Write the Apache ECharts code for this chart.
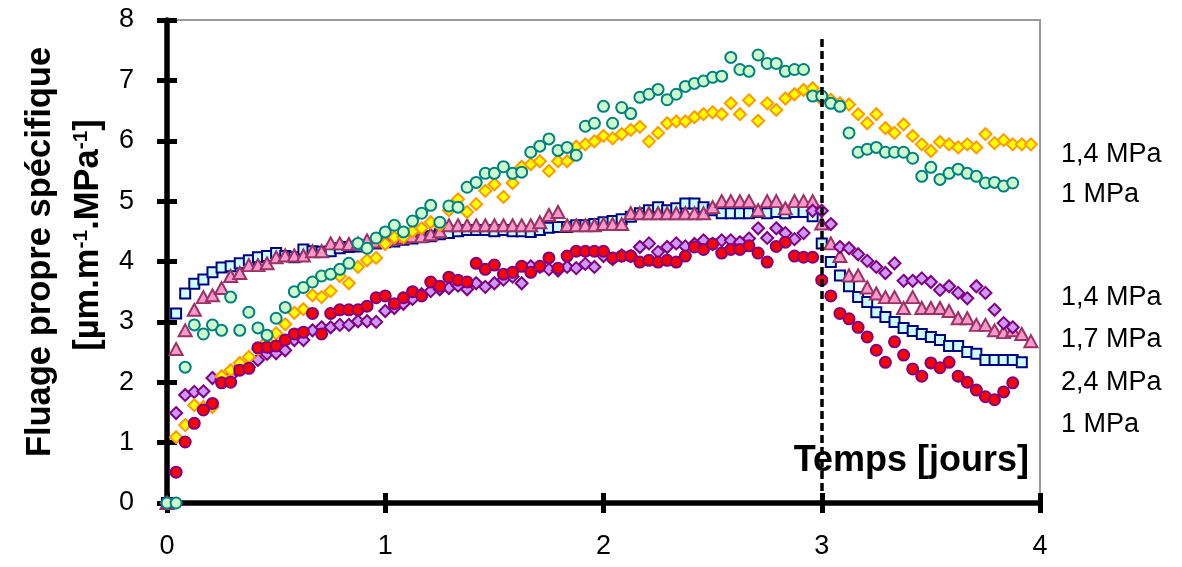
<!DOCTYPE html>
<html><head><meta charset="utf-8">
<script src="https://cdn.jsdelivr.net/npm/echarts@6/dist/echarts.min.js"></script>
<style>html,body{margin:0;padding:0;background:#fff}#c{width:1182px;height:567px}</style>
</head><body><div id="c"></div>
<script>
// time in hours (one sample per hour), axis shown in days
const hours = ['0','1','2','3','4','5','6','7','8','9','10','11','12','13','14','15','16','17','18','19','20','21','22','23','24','25','26','27','28','29','30','31','32','33','34','35','36','37','38','39','40','41','42','43','44','45','46','47','48','49','50','51','52','53','54','55','56','57','58','59','60','61','62','63','64','65','66','67','68','69','70','71','72','73','74','75','76','77','78','79','80','81','82','83','84','85','86','87','88','89','90','91','92','93','94','95','96'];
const xTickLabels = ['0','1','2','3','4'];
const yMin = 0, yMax = 8, yStep = 1;
const unloadHour = '72';
const dashTop = 7.72;

// teal circles (1 MPa, upper group)
const tealCircles = [0,0,2.25,2.95,2.8,2.95,2.86,3.41,2.86,3.16,2.9,2.78,3.06,3.24,3.5,3.57,3.66,3.76,3.79,3.87,3.97,4.3,4.22,4.39,4.49,4.6,4.49,4.67,4.8,4.93,4.65,4.92,4.9,5.23,5.31,5.46,5.46,5.57,5.46,5.48,5.81,5.91,6.03,5.84,5.89,5.76,6.24,6.29,6.57,6.29,6.55,6.45,6.72,6.77,6.85,6.68,6.77,6.9,6.95,6.99,7.05,7.07,7.38,7.18,7.15,7.42,7.28,7.28,7.15,7.18,7.18,6.74,6.74,6.62,6.57,6.13,5.81,5.86,5.89,5.81,5.81,5.81,5.71,5.41,5.56,5.36,5.46,5.53,5.46,5.41,5.3,5.31,5.25,5.3];
// yellow/orange diamonds (1,4 MPa, upper group)
const orangeDiamonds = [0,1.09,1.29,1.62,1.59,1.59,2.1,2.2,2.32,2.42,2.55,2.68,2.81,2.96,3.15,3.21,3.44,3.41,3.51,3.76,3.64,3.91,4.02,4.06,4.29,4.4,4.4,4.5,4.55,4.65,4.6,4.85,5.03,4.82,4.95,5.17,5.28,5.07,5.3,5.57,5.61,5.66,5.5,5.66,5.66,5.9,5.94,5.99,6.08,6.04,6.11,6.18,6.23,5.99,6.13,6.29,6.32,6.32,6.39,6.44,6.47,6.44,6.62,6.44,6.67,6.33,6.62,6.51,6.7,6.77,6.84,6.87,6.68,6.68,6.62,6.6,6.44,6.29,6.44,6.21,6.13,6.27,6.08,5.94,5.83,5.98,5.94,5.89,5.94,5.89,6.11,5.96,6.01,5.94,5.94,5.94];
// light blue squares
const blueSquares = [0,3.14,3.47,3.63,3.7,3.82,3.9,3.92,3.97,4.02,4.07,4.09,4.14,4.09,4.07,4.2,4.17,4.16,4.17,4.22,4.24,4.25,4.27,4.3,4.32,4.33,4.36,4.38,4.4,4.42,4.45,4.47,4.5,4.52,4.52,4.52,4.5,4.52,4.5,4.5,4.49,4.52,4.56,4.57,4.57,4.6,4.6,4.62,4.65,4.67,4.7,4.74,4.8,4.85,4.9,4.85,4.88,4.96,4.96,4.9,4.85,4.8,4.8,4.8,4.8,4.82,4.8,4.82,4.8,4.82,4.82,4.75,4.3,3.99,3.77,3.59,3.41,3.33,3.16,3.08,3.0,2.9,2.85,2.8,2.75,2.7,2.6,2.6,2.5,2.47,2.37,2.37,2.37,2.37,2.33];
// pink triangles
const pinkTriangles = [0,2.55,2.86,3.2,3.41,3.44,3.56,3.76,3.81,3.94,3.94,3.97,4.07,4.1,4.1,4.1,4.17,4.17,4.3,4.3,4.29,4.3,4.35,4.33,4.36,4.38,4.4,4.42,4.42,4.45,4.5,4.6,4.6,4.6,4.6,4.6,4.6,4.6,4.6,4.6,4.6,4.65,4.77,4.82,4.6,4.6,4.6,4.6,4.62,4.62,4.62,4.8,4.8,4.8,4.8,4.8,4.8,4.8,4.8,4.8,4.9,5.0,5.0,5.0,5.0,4.85,5.0,5.0,4.88,5.0,5.0,5.0,4.63,4.3,4.09,3.77,3.77,3.57,3.47,3.41,3.41,3.23,3.41,3.23,3.23,3.23,3.18,3.06,3.06,2.95,2.95,2.86,2.83,2.86,2.8,2.68];
// violet diamonds
const violetDiamonds = [0,1.49,1.79,1.84,1.85,2.07,2.05,2.1,2.25,2.25,2.37,2.47,2.48,2.53,2.7,2.7,2.86,2.91,2.91,2.95,2.95,3.01,3.01,3.0,3.18,3.23,3.3,3.38,3.46,3.51,3.54,3.56,3.6,3.54,3.64,3.58,3.64,3.7,3.75,3.64,3.92,3.91,3.87,3.85,3.91,3.89,3.96,3.91,4.09,4.04,4.1,4.09,4.24,4.3,4.16,4.24,4.3,4.25,4.29,4.35,4.29,4.35,4.35,4.32,4.38,4.55,4.39,4.55,4.47,4.37,4.47,4.84,4.84,4.62,4.24,4.22,4.12,4.01,3.91,3.81,3.97,3.68,3.68,3.72,3.66,3.53,3.59,3.48,3.39,3.59,3.48,3.2,2.98,2.91];
// red circles
const redCircles = [0,0.51,1.01,1.32,1.54,1.65,1.99,2.0,2.2,2.23,2.57,2.58,2.6,2.7,2.8,2.83,3.14,2.8,3.14,3.2,3.2,3.2,3.26,3.4,3.43,3.3,3.4,3.5,3.43,3.66,3.59,3.74,3.69,3.66,3.97,3.87,3.94,3.79,3.82,3.92,3.82,3.92,4.06,3.89,4.09,4.17,4.17,4.17,4.17,4.06,4.09,4.09,3.99,4.02,3.99,4.02,3.99,4.09,4.24,4.2,4.29,4.14,4.2,4.2,4.26,4.14,3.99,4.25,4.32,4.09,4.07,4.07,3.69,3.43,3.14,3.05,2.91,2.75,2.53,2.33,2.67,2.45,2.22,2.1,2.32,2.24,2.33,2.1,2.0,1.87,1.76,1.71,1.84,1.99];

const rightLabels = ['1,4 MPa','1 MPa','1,4 MPa','1,7 MPa','2,4 MPa','1 MPa'];
const yTitle1 = 'Fluage propre spécifique';
const xTitle = 'Temps [jours]';

const FONT = '"Liberation Sans", Arial, sans-serif';

function mk(name, data, symbol, size, fill, stroke, extra) {
  return Object.assign({
    name: name, type: 'scatter', data: data, symbol: symbol, symbolSize: size,
    xAxisIndex: 0, yAxisIndex: 0,
    itemStyle: { color: fill, borderColor: stroke, borderWidth: 2, opacity: 1 },
    emphasis: { disabled: true }, animation: false
  }, extra || {});
}

const chart = echarts.init(document.getElementById('c'), null, { renderer: 'canvas' });
const labelYs = [155, 195, 298, 340, 383, 425];
const graphics = rightLabels.map((t, i) => ({
  type: 'text', x: 1061, y: labelYs[i],
  style: { text: t, fontSize: 27, fontFamily: FONT, fill: '#000', align: 'left', verticalAlign: 'middle' }
}));
graphics.push({
  type: 'text', x: 40, y: 252, rotation: Math.PI / 2,
  style: { text: yTitle1, fontSize: 34.5, fontWeight: 'bold', fontFamily: FONT, fill: '#000', align: 'center', verticalAlign: 'middle' }
});
graphics.push({
  type: 'text', x: 88, y: 235, rotation: Math.PI / 2,
  style: {
    text: '{a|[µm.m}{s|-1}{a|.MPa}{s|-1}{a|]}',
    fontSize: 34.5, fontWeight: 'bold', fontFamily: FONT, fill: '#000', align: 'center', verticalAlign: 'middle',
    rich: {
      a: { fontSize: 34.5, fontWeight: 'bold', fontFamily: FONT, fill: '#000' },
      s: { fontSize: 21, fontWeight: 'bold', fontFamily: FONT, fill: '#000', verticalAlign: 'top' }
    }
  }
});
graphics.push({
  type: 'text', x: 1029, y: 461,
  style: { text: xTitle, fontSize: 36, fontWeight: 'bold', fontFamily: FONT, fill: '#000', align: 'right', verticalAlign: 'middle' }
});

const option = {
  backgroundColor: '#fff',
  animation: false,
  grid: { left: 167, right: 142, top: 20, bottom: 64, show: true, borderColor: '#9a9a9a', borderWidth: 2, backgroundColor: 'transparent', containLabel: false, outerBoundsMode: 'none' },
  xAxis: [
    { type: 'category', data: hours, boundaryGap: false, position: 'bottom',
      axisLine: { show: true, onZero: false, lineStyle: { color: '#000', width: 5.5 } },
      axisTick: { show: true, interval: 23, inside: false, length: 10, lineStyle: { color: '#000', width: 5 } },
      axisLabel: { show: true, interval: 23, margin: 30, fontSize: 27, fontFamily: FONT, color: '#000',
        formatter: (v, i) => xTickLabels[i / 24] },
      splitLine: { show: false } },
    { type: 'category', data: hours, boundaryGap: false, position: 'bottom', offset: 0,
      axisLine: { show: false, onZero: false },
      axisTick: { show: true, interval: 23, inside: true, length: 10, lineStyle: { color: '#000', width: 5 } },
      axisLabel: { show: false }, splitLine: { show: false } }
  ],
  yAxis: [
    { type: 'value', min: yMin, max: yMax, interval: yStep, position: 'left',
      axisLine: { show: true, onZero: false, lineStyle: { color: '#000', width: 5.5 } },
      axisTick: { show: true, inside: false, length: 10, lineStyle: { color: '#000', width: 5 } },
      axisLabel: { show: true, margin: 33, fontSize: 27, fontFamily: FONT, color: '#000' },
      splitLine: { show: false } },
    { type: 'value', min: yMin, max: yMax, interval: yStep, position: 'left', offset: 0,
      axisLine: { show: false, onZero: false },
      axisTick: { show: true, inside: true, length: 10, lineStyle: { color: '#000', width: 5 } },
      axisLabel: { show: false }, splitLine: { show: false } }
  ],
  graphic: graphics,
  series: [
    mk('2,4 MPa', blueSquares, 'rect', 10, '#ccffff', '#000080'),
    mk('1,7 MPa', pinkTriangles, 'triangle', [13, 12], '#ff99cc', '#993366'),
    mk('1,4 MPa', violetDiamonds, 'diamond', 12, '#cc99ff', '#800080'),
    mk('1,4 MPa ', orangeDiamonds, 'diamond', 12, '#ffff00', '#ff9900'),
    mk('1 MPa', redCircles, 'circle', 11, '#ff0000', '#800080'),
    mk('1 MPa ', tealCircles, 'circle', 11, '#ccffcc', '#008080', {
      markLine: {
        silent: true, symbol: 'none', animation: false,
        label: { show: false },
        lineStyle: { type: [8, 4], color: '#000', width: 3.5 },
        data: [[{ coord: [unloadHour, 0] }, { coord: [unloadHour, dashTop] }]]
      }
    })
  ]
};
chart.setOption(option);
</script>
</body></html>
